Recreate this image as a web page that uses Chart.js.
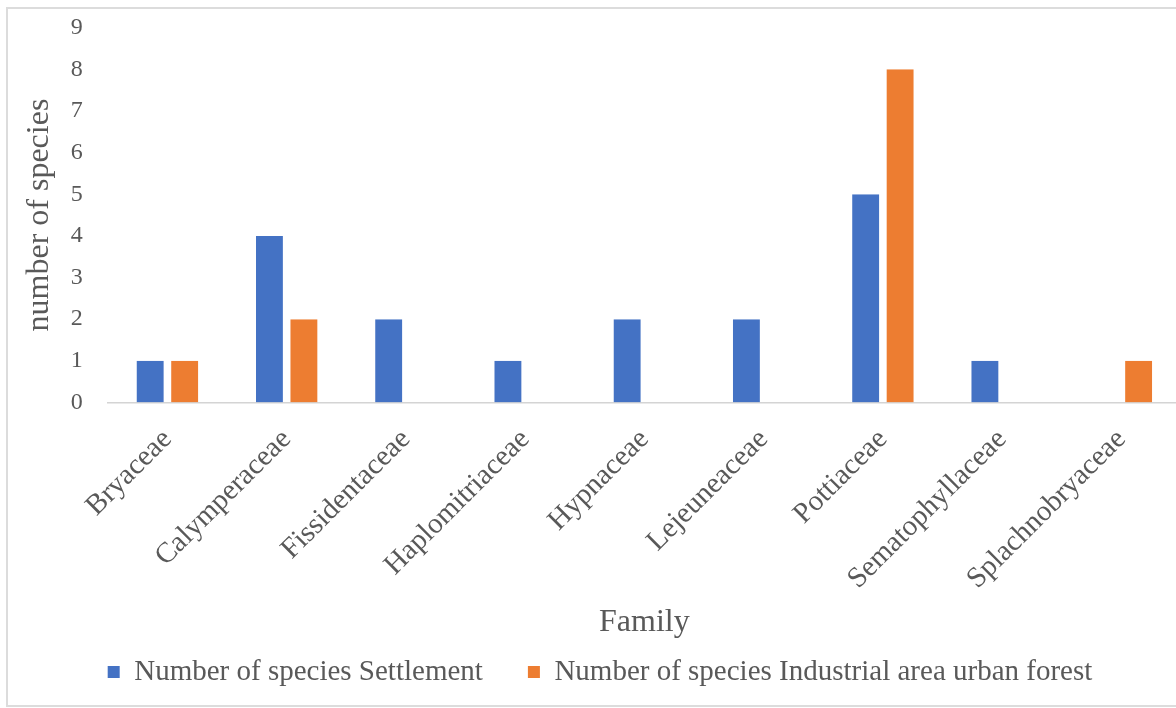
<!DOCTYPE html>
<html>
<head>
<meta charset="utf-8">
<title>Number of species by family</title>
<script src="https://cdn.jsdelivr.net/npm/chart.js@4.4.1/dist/chart.umd.min.js"></script>
<style>
  html, body { margin: 0; padding: 0; background: #ffffff; overflow: hidden; width: 1176px; height: 708px; }
  #frame { position: absolute; left: 6px; top: 7px; width: 1210px; height: 696px; border: 2px solid #dcdcdc; }
  #chart { position: absolute; left: 0; top: 0; }
</style>
</head>
<body>
<div id="frame"></div>
<canvas id="chart" width="1195" height="708"></canvas>
<script>
// Moss families and species counts per site
const families = ["Bryaceae", "Calymperaceae", "Fissidentaceae", "Haplomitriaceae", "Hypnaceae",
                  "Lejeuneaceae", "Pottiaceae", "Sematophyllaceae", "Splachnobryaceae"];
const settlementCounts = [1, 4, 2, 1, 2, 2, 5, 1, 0];
const industrialCounts = [1, 2, 0, 0, 0, 0, 8, 0, 1];
const seriesNames = ["Number of species Settlement", "Number of species Industrial area urban forest"];
const yAxisMin = 0;
const yAxisMax = 9;
const yAxisStep = 1;

const SERIF = '"Liberation Serif", "Times New Roman", serif';
const TEXT = '#595959';
const BLUE = '#4472C4';
const ORANGE = '#ED7D31';

// transparent side borders leave a small gap between the two bars of a pair
const gapBorder = { top: 0, bottom: 0, left: 3.8, right: 3.8 };

new Chart(document.getElementById('chart'), {
  type: 'bar',
  data: {
    labels: families,
    datasets: [
      { label: seriesNames[0], data: settlementCounts, backgroundColor: BLUE,
        borderColor: 'rgba(0,0,0,0)', borderWidth: gapBorder, borderSkipped: false },
      { label: seriesNames[1], data: industrialCounts, backgroundColor: ORANGE,
        borderColor: 'rgba(0,0,0,0)', borderWidth: gapBorder, borderSkipped: false }
    ]
  },
  options: {
    responsive: false,
    animation: false,
    devicePixelRatio: 1,
    categoryPercentage: 0.578,
    barPercentage: 1.0,
    layout: { padding: { top: 27.6, left: 19, right: 14, bottom: 11.5 } },
    plugins: {
      tooltip: { enabled: false },
      legend: {
        position: 'bottom',
        labels: {
          boxWidth: 12,
          boxHeight: 12,
          padding: 45,
          color: TEXT,
          font: { family: SERIF, size: 29 }
        }
      }
    },
    scales: {
      x: {
        grid: { display: false, drawTicks: false },
        border: { display: true, color: '#d4d4d4', width: 1.5 },
        ticks: {
          color: TEXT,
          font: { family: SERIF, size: 29 },
          minRotation: 45,
          maxRotation: 45,
          autoSkip: false,
          padding: 20
        },
        title: {
          display: true,
          text: 'Family',
          color: TEXT,
          font: { family: SERIF, size: 32, lineHeight: 1.2 },
          padding: { top: 0, bottom: -29.2 }
        },
        afterFit(scale) { scale.height = 210; }
      },
      y: {
        min: yAxisMin,
        max: yAxisMax,
        grid: { display: false, drawTicks: false },
        border: { display: false },
        ticks: {
          stepSize: yAxisStep,
          color: TEXT,
          font: { family: SERIF, size: 24, lineHeight: 0.2 },
          padding: 25
        },
        title: {
          display: true,
          text: 'number of species',
          color: TEXT,
          font: { family: SERIF, size: 32, lineHeight: 1.2 },
          padding: { top: 1, bottom: 0 }
        },
        afterFit(scale) { scale.width = 88.8; }
      }
    }
  }
});
</script>
</body>
</html>
